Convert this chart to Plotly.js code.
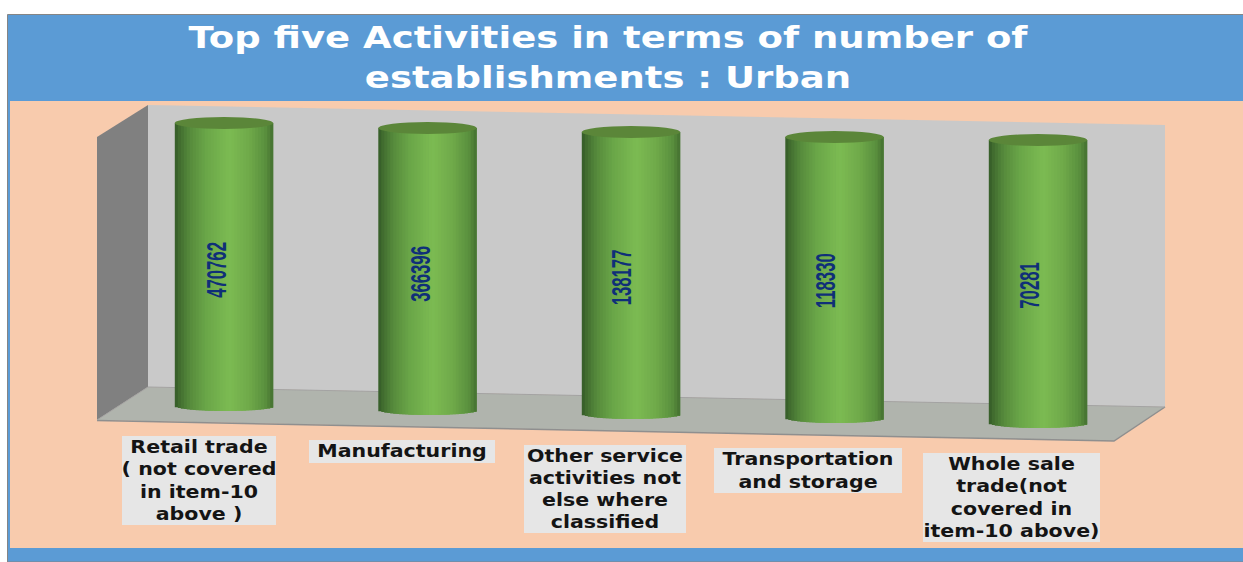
<!DOCTYPE html>
<html>
<head>
<meta charset="utf-8">
<script src="https://cdn.plot.ly/plotly-3.0.1.min.js"></script>
<style>html,body{margin:0;padding:0;background:#fff;overflow:hidden}#chart{width:1243px;height:562px}</style>
</head>
<body>
<div id="chart"></div>
<script>
// ---- data ----
const categories = ["Retail trade", "Manufacturing", "Other service activities", "Transportation and storage", "Whole sale trade"];
const categoryLabels = [
  "Retail trade<br>( not covered<br>in item-10<br>above )",
  "Manufacturing",
  "Other service<br>activities not<br>else where<br>classified",
  "Transportation<br>and storage",
  "Whole sale<br>trade(not<br>covered in<br>item-10 above)"
];
const establishments = [470762, 366396, 138177, 118330, 70281];
// The 3D cylinders are drawn at (almost) equal height in the source: drawn extents on the hidden axis.
const cylinderBases = [156, 152, 148, 144, 139];
const cylinderHeights = [283, 282, 282, 281, 283];
const chartTitle = "Top five Activities in terms of number of<br>establishments : Urban";

// ---- layout helpers ----
const W = 1243, H = 562;
const px = v => v / W, py = v => 1 - v / H;
const pathOf = pts => "M" + pts.map(p => px(p[0]) + "," + py(p[1])).join("L") + "Z";
const catStep = 203.5, catStart = 224;
const halfWidth = 49.2 / catStep;

// cylinder shading
const shadeStops = [
  [0.00, [52, 90, 40]], [0.05, [66, 110, 48]], [0.15, [86, 138, 60]], [0.32, [106, 166, 72]],
  [0.55, [124, 187, 82]], [0.75, [112, 170, 74]], [0.92, [90, 144, 62]], [1.00, [68, 112, 48]]
];
function shade(t) {
  for (let i = 1; i < shadeStops.length; i++) {
    if (t <= shadeStops[i][0]) {
      const a = shadeStops[i - 1], b = shadeStops[i], f = (t - a[0]) / (b[0] - a[0]);
      return "rgb(" + a[1].map((c, k) => Math.round(c + (b[1][k] - c) * f)).join(",") + ")";
    }
  }
  return "rgb(68,112,48)";
}

const sliceCount = 33, bottomCurve = 5, capCurve = 6;
const sliceStep = 2 * halfWidth / sliceCount;
const traces = [];
for (let s = 0; s < sliceCount; s++) {
  const t = (s + 0.5) / sliceCount;
  const u = 2 * t - 1;
  const sag = bottomCurve * Math.sqrt(1 - u * u);
  traces.push({
    type: "bar",
    x: categories,
    y: cylinderHeights.map(h => h + sag),
    base: cylinderBases.map(b => b - sag),
    offset: -halfWidth + s * sliceStep,
    // each slice reaches under the next one so no seam can show
    width: s === sliceCount - 1 ? sliceStep : 2 * sliceStep,
    marker: { color: shade(t), line: { width: 0 } },
    hoverinfo: "skip",
    showlegend: false
  });
}

const shapes = [
  // frame, title band, peach panel
  { type: "rect", xref: "paper", yref: "paper", layer: "below", x0: px(7.5), x1: px(1250), y0: py(14.5), y1: py(562), fillcolor: "#5b9bd5", line: { color: "#858585", width: 1 } },
  { type: "rect", xref: "paper", yref: "paper", layer: "below", x0: px(10), x1: 1, y0: py(101), y1: py(548), fillcolor: "#f8cbad", line: { width: 0 } },
  // back wall
  { type: "path", xref: "paper", yref: "paper", layer: "below", path: pathOf([[148, 105], [1165, 125], [1165, 407], [148, 387]]), fillcolor: "#c9c9c9", line: { width: 0 } },
  // side wall
  { type: "path", xref: "paper", yref: "paper", layer: "below", path: pathOf([[97, 137], [148, 105], [148, 387], [97, 420]]), fillcolor: "#808080", line: { width: 0 } },
  // floor
  { type: "path", xref: "paper", yref: "paper", layer: "below", path: pathOf([[148, 387], [1165, 407], [1114, 441], [97, 420]]), fillcolor: "#b0b4ad", line: { width: 0 } },
  { type: "path", xref: "paper", yref: "paper", layer: "below", path: "M" + px(97) + "," + py(420.5) + "L" + px(1114) + "," + py(441) + "L" + px(1165) + "," + py(407), line: { color: "#8f8f8f", width: 1.5 } },
  { type: "path", xref: "paper", yref: "paper", layer: "below", path: "M" + px(97) + "," + py(420) + "L" + px(148) + "," + py(387) + "L" + px(1165) + "," + py(407), line: { color: "#a3a3a3", width: 1 } }
];
// cylinder caps
categories.forEach((c, i) => {
  const top = cylinderBases[i] + cylinderHeights[i];
  shapes.push({
    type: "circle", xref: "x", yref: "y", layer: "above",
    x0: i - halfWidth, x1: i + halfWidth, y0: top - capCurve, y1: top + capCurve,
    fillcolor: "#5b8639", line: { width: 0 }
  });
});

// rotated value labels and category boxes
const valueShift = [-7, -6.5, -8.5, -8.5, -8];
const valueCentres = [270, 274, 278, 281, 286];
const boxes = [[122, 276, 435, 524], [309, 495, 439, 462], [524, 686, 444, 532], [714, 902, 447, 492], [923, 1100, 452, 541]];
const annotations = [];
establishments.forEach((v, i) => {
  annotations.push({
    x: i, xref: "x", xshift: valueShift[i], y: H - valueCentres[i], yref: "y",
    text: "<b>" + v + "</b>", showarrow: false, textangle: -90, xanchor: "center", yanchor: "middle",
    font: { family: "'Liberation Sans', sans-serif", size: 27, color: "#0f2f78" }
  });
});
categoryLabels.forEach((label, i) => {
  const b = boxes[i];
  annotations.push({
    x: i, xref: "x", xshift: (b[0] + b[1]) / 2 - (catStart + i * catStep),
    y: H - (b[2] + b[3]) / 2, yref: "y", yshift: -1,
    width: b[1] - b[0], height: b[3] - b[2], borderpad: 0, borderwidth: 0,
    text: "<b>" + label + "</b>", showarrow: false, align: "center", valign: "middle",
    xanchor: "center", yanchor: "middle", bgcolor: "#e6e6e6",
    font: { family: "'DejaVu Sans', sans-serif", size: 17, color: "#141414" }
  });
});

const layout = {
  width: W, height: H,
  margin: { l: 0, r: 0, t: 0, b: 0, pad: 0 },
  paper_bgcolor: "#ffffff", plot_bgcolor: "rgba(0,0,0,0)",
  barmode: "overlay", showlegend: false,
  title: {
    text: chartTitle, x: 608 / W, xanchor: "center", xref: "paper",
    y: 1 - 48 / H, yanchor: "middle", yref: "container",
    font: { family: "'DejaVu Sans', sans-serif", size: 31, color: "#ffffff", weight: "bold" }
  },
  xaxis: { type: "category", visible: false, range: [-catStart / catStep, (W - catStart) / catStep], categoryorder: "array", categoryarray: categories, fixedrange: true },
  yaxis: { visible: false, range: [0, H], fixedrange: true },
  shapes: shapes, annotations: annotations
};

// The source text is stretched; widen or narrow real text around its own centre.
function stretch(el, sx) {
  const b = el.getBBox(), cx = b.x + b.width / 2;
  const prior = el.getAttribute("transform") || "";
  el.setAttribute("transform", prior + " translate(" + cx + ",0) scale(" + sx + ",1) translate(" + (-cx) + ",0)");
}
Plotly.newPlot("chart", traces, layout, { displayModeBar: false, staticPlot: true }).then(() => {
  const root = document.getElementById("chart");
  const title = root.querySelector(".gtitle");
  if (title) stretch(title, 1.194);
  root.querySelectorAll(".annotation-text").forEach((el, i) => {
    stretch(el, i < establishments.length ? 0.62 : 1.21);
  });
});
</script>
</body>
</html>
